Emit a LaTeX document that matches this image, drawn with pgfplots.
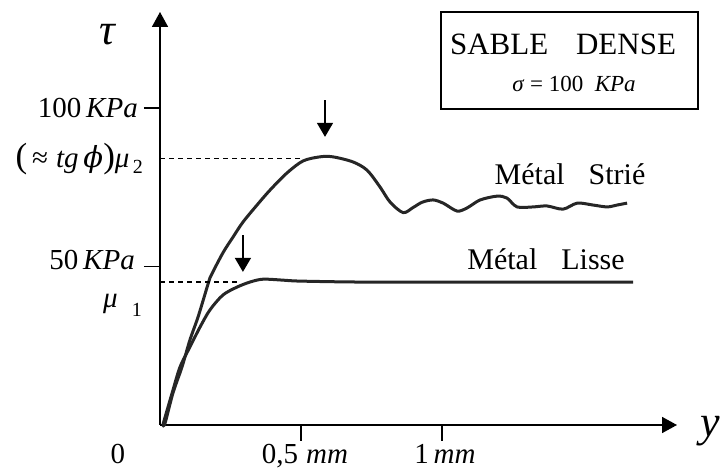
\documentclass[border=0pt]{standalone}
\usepackage{pgfplots}
\pgfplotsset{compat=1.18}
\usepackage{fontspec}
\setmainfont{Liberation Serif}
\newfontfamily\dvs{DejaVu Serif}
\usetikzlibrary{arrows.meta}
\newcommand{\fs}[1]{\fontsize{#1bp}{#1bp}\selectfont}
\begin{document}
\begin{tikzpicture}[x=1bp,y=1bp]
\begin{axis}[
  at={(0,0)}, anchor=south west,
  scale only axis, width=517bp, height=413bp,
  xmin=0, xmax=1.833, ymin=0, ymax=130.3,
  axis lines=left,
  axis line style={line width=1.6bp, -{Triangle[length=15bp,width=16bp]}},
  xtick={0.5,1}, ytick={50,100},
  xticklabels={}, yticklabels={},
  tick align=outside, major tick length=16bp,
  tick style={line width=1.6bp, black},
  clip=false,
]
% Metal strie
\addplot[smooth, line width=3bp, color=black!85] coordinates {
(0.010,0) (0.018,0.6) (0.046,10.1) (0.078,18.3) (0.106,26.8) (0.135,34.1)
(0.167,43.5) (0.177,46.4) (0.223,54.3) (0.259,59.3) (0.294,64.0) (0.344,69.4)
(0.390,74.1) (0.450,79.5) (0.507,83.3) (0.567,84.6) (0.613,84.6) (0.684,83.0)
(0.734,80.4) (0.780,75.1) (0.816,70.3) (0.862,67.0) (0.897,68.6) (0.930,70.3)
(0.968,71.0) (1.004,70.0) (1.053,67.5) (1.089,68.5) (1.135,71.0) (1.195,72.2)
(1.230,71.6) (1.266,68.8) (1.323,68.8) (1.372,69.1) (1.429,68.1) (1.479,70.0)
(1.535,69.4) (1.585,68.8) (1.621,69.4) (1.656,70.0)
};
% Metal lisse
\addplot[smooth, line width=3bp, color=black!85] coordinates {
(0.010,0) (0.043,10.1) (0.071,18.3) (0.106,24.6) (0.142,30.9) (0.177,36.3)
(0.223,41.0) (0.273,43.5) (0.319,45.1) (0.365,46.0) (0.436,45.7) (0.496,45.4)
(0.709,45.1) (1.028,45.1) (1.677,45.1)
};
% dashed reference lines
\draw[line width=1.2bp, dash pattern=on 5bp off 4bp] (axis cs:0,84.2) -- (axis cs:0.507,84.2);
\draw[line width=1.2bp, dash pattern=on 5bp off 4bp] (axis cs:0,45.1) -- (axis cs:0.284,45.1);
% arrows
\draw[line width=1.5bp, -{Triangle[length=14bp,width=16bp]}] (axis cs:0.585,102.5) -- (axis cs:0.585,90.9);
\draw[line width=1.5bp, -{Triangle[length=14bp,width=16bp]}] (axis cs:0.294,59.9) -- (axis cs:0.294,48.3);
\end{axis}
% labels (origin of tikz coords = axis origin)
\node[font=\fs{44}\itshape, inner sep=0] at (-53,390) {τ};
\node[anchor=east, font=\fs{29}, inner sep=0] at (-22,317) {100\,\textit{KPa}};
\node[anchor=east, font=\fs{29}, inner sep=0] at (-17,266) {{\fs{35}(}\,≈\;\textit{tg}\,{\dvs\itshape ϕ}{\fs{35})}\textit{μ}\raisebox{-6bp}{\fs{20}\,2}};
\node[anchor=base east, font=\fs{29}, inner sep=0] at (-25,155) {50\,\textit{KPa}};
\node[anchor=base east, font=\fs{29}\itshape, inner sep=0] at (-42,117) {μ};
\node[anchor=base east, font=\fs{20}, inner sep=0] at (-18,108) {1};
\node[anchor=base, font=\fs{29}, inner sep=0] at (-42,-39) {0};
\node[anchor=base, font=\fs{29}, inner sep=0] at (145,-39) {0,5\;\textit{mm}};
\node[anchor=base, font=\fs{29}, inner sep=0] at (285,-39) {1\,\textit{mm}};
\node[anchor=base west, font=\fs{44}\itshape, inner sep=0] at (540,-12) {y};
\draw[line width=1.4bp] (281,316) rectangle (538,413);
\node[anchor=base, font=\fs{31}, inner sep=0] at (403,370) {SABLE\hspace{0.9em}DENSE};
\node[anchor=base, font=\fs{23}, inner sep=0] at (414,333) {\textit{σ} = 100\hspace{0.5em}\textit{KPa}};
\node[anchor=base, font=\fs{30}, inner sep=0] at (410,240) {Métal\hspace{0.8em}Strié};
\node[anchor=base, font=\fs{30}, inner sep=0] at (386,155) {Métal\hspace{0.8em}Lisse};
\pgfresetboundingbox
\path[use as bounding box] (-160,-46) rectangle (563,425);
\end{tikzpicture}
\end{document}
